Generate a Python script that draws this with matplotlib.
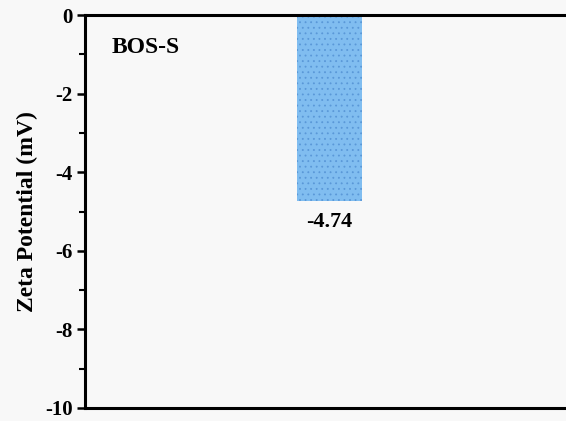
import numpy as np
import matplotlib.pyplot as plt

samples = ["BOS-S"]
zeta = [-4.74]
yticks = [0, -2, -4, -6, -8, -10]

plt.rcParams['font.family'] = ['Liberation Serif', 'DejaVu Serif']
plt.rcParams['font.weight'] = 'bold'
plt.rcParams['hatch.linewidth'] = 0.6

fig = plt.figure(figsize=(5.66, 4.21), dpi=100)
fig.patch.set_facecolor('#f8f8f8')
ax = fig.add_axes([0.150, 0.031, 0.90, 0.933])
ax.set_facecolor('#f8f8f8')

x = np.arange(len(samples))
# hatch takes the edge colour; keep the outline itself invisible
bars = ax.bar(x, zeta, width=0.266, color='#80bdf0', edgecolor='#5a98d8',
              hatch='...', linewidth=0)
for xi, v in zip(x, zeta):
    ax.text(xi, v - 0.28, f"{v:.2f}", ha='center', va='top', fontsize=16, fontweight='bold')

ax.text(0.053, 0.918, samples[0], transform=ax.transAxes, fontsize=17,
        fontweight='bold', ha='left', va='center')

ax.set_xlim(-1, 1.083)
ax.set_ylim(-10, 0)
ax.set_yticks(yticks)
ax.set_yticklabels([str(t) for t in yticks])
ax.set_yticks(np.arange(-9, 0, 2), minor=True)
ax.set_xticks([])
ax.tick_params(axis='y', which='major', direction='out', length=6, width=1.8, labelsize=15, pad=3)
ax.tick_params(axis='y', which='minor', direction='out', length=4, width=1.5)
for s in ['left', 'top', 'bottom', 'right']:
    ax.spines[s].set_linewidth(2.2)
ax.set_ylabel("Zeta Potential (mV)", fontsize=17, fontweight='bold', labelpad=5)

fig.savefig("out.png", dpi=100, facecolor=fig.get_facecolor())
